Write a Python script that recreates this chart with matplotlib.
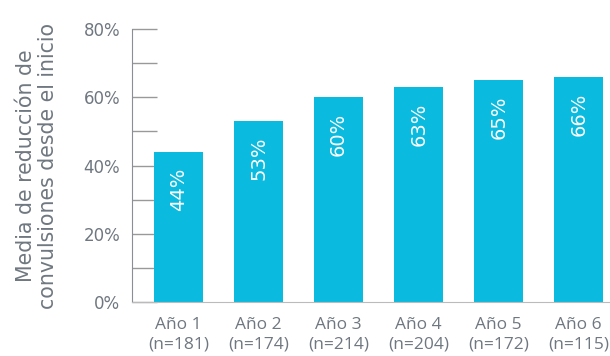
import matplotlib
matplotlib.use('Agg')
import matplotlib.pyplot as plt
from matplotlib.ticker import MultipleLocator

plt.rcParams['font.family'] = ['DejaVu Sans']

years = ['Año 1', 'Año 2', 'Año 3', 'Año 4', 'Año 5', 'Año 6']
n_counts = [181, 174, 214, 204, 172, 115]
reduction = [44, 53, 60, 63, 65, 66]

bar_color = '#0ABBDF'
text_gray = '#6F7780'

fig = plt.figure(figsize=(6.10, 3.56), dpi=100)
ax = fig.add_axes([0.2164, 0.1517, 0.7836, 0.7668])

x = list(range(len(years)))
ax.bar(x, reduction, width=0.61, color=bar_color, zorder=2)
for xi, v in zip(x, reduction):
    ax.text(xi, v - 4.6, f'{v}%', rotation=90, ha='center', va='top',
            color='white', fontsize=14)

ax.set_xlim(-0.58, 5.39)
ax.set_ylim(0, 80)
ax.yaxis.set_minor_locator(MultipleLocator(10))
ax.set_yticks([0, 20, 40, 60, 80])
ax.set_yticklabels(['0%', '20%', '40%', '60%', '80%'], color=text_gray, fontsize=12)
ax.tick_params(axis='y', which='both', direction='in', length=18, width=1,
               color='#999999', pad=8.5)
ax.set_xticks(x)
ax.set_xticklabels([f'{y}\n(n={n})' for y, n in zip(years, n_counts)],
                   color=text_gray, fontsize=12.5, linespacing=1.25,
                   family='Open Sans')
ax.tick_params(axis='x', length=0, pad=11)

for s in ['top', 'right']:
    ax.spines[s].set_visible(False)
ax.spines['left'].set_color('#8A8F96')
ax.spines['bottom'].set_color('#BBBBBB')

ax.set_ylabel('Media de reducción de\nconvulsiones desde el inicio',
              color=text_gray, fontsize=14.8, linespacing=1.15, labelpad=18)

fig.savefig('out.png', dpi=100)
